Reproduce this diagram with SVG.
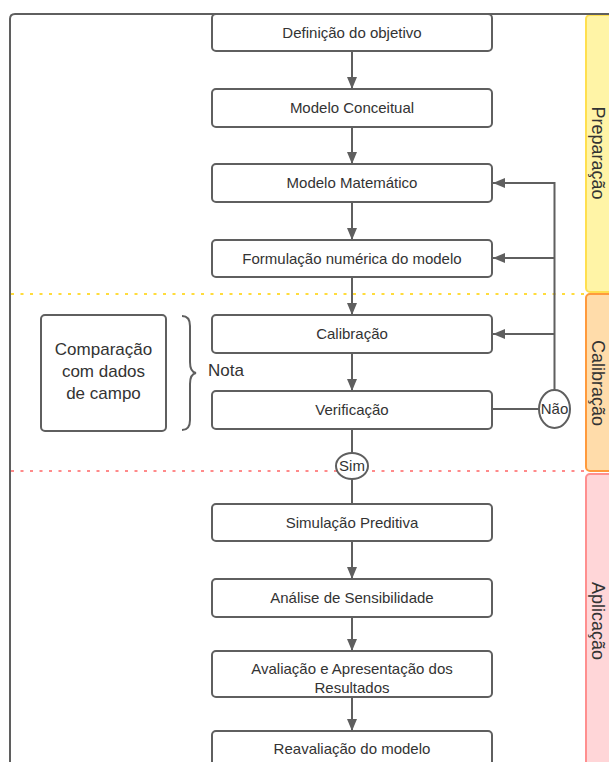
<svg xmlns="http://www.w3.org/2000/svg" width="609" height="762" viewBox="0 0 609 762">
<style>
.box{fill:#fff;stroke:#5f5f5f;stroke-width:2}
.t{font-family:"Liberation Sans",Arial,sans-serif;font-size:15px;fill:#333;text-anchor:middle}
.big{font-family:"Liberation Sans",Arial,sans-serif;font-size:17px;fill:#333}
.ln{fill:none;stroke:#5f5f5f;stroke-width:2}
.lane{font-family:"Liberation Sans",Arial,sans-serif;font-size:18px;fill:#333;text-anchor:middle}
</style>
<defs>
<marker id="ah" markerWidth="12" markerHeight="12" viewBox="0 0 12 12" refX="12" refY="6" orient="auto" markerUnits="userSpaceOnUse">
<path d="M0,1 L12,6 L0,11 Z" fill="#5f5f5f"/>
</marker>
</defs>
<rect width="609" height="762" fill="#fff"/>
<g id="lanes">
<rect x="586" y="15" width="40" height="277" rx="4" fill="#fff4a6" stroke="#ffdf4f" stroke-width="2"/>
<rect x="586" y="294" width="40" height="177" rx="4" fill="#ffdcaa" stroke="#ff9a3c" stroke-width="2"/>
<rect x="586" y="474" width="40" height="300" rx="4" fill="#ffd6d8" stroke="#ff8f8f" stroke-width="2"/>
<text class="lane" transform="translate(598,153) rotate(90)" dy="6">Preparação</text>
<text class="lane" transform="translate(598,383) rotate(90)" dy="6">Calibração</text>
<text class="lane" transform="translate(598,621) rotate(90)" dy="6">Aplicação</text>
</g>
<g id="frame">
<path d="M10,770 V19 Q10,14 15,14 H609" fill="none" stroke="#5f5f5f" stroke-width="2"/>
</g>
<g id="dividers">
<line x1="11" y1="294" x2="585" y2="294" stroke="#ffdc3c" stroke-width="2" stroke-dasharray="3 6.5"/>
<line x1="11" y1="471" x2="585" y2="471" stroke="#ff8a8a" stroke-width="2" stroke-dasharray="3 6.5"/>
</g>
<g id="connectors">
<line class="ln" x1="352" y1="51" x2="352" y2="89" marker-end="url(#ah)"/>
<line class="ln" x1="352" y1="127" x2="352" y2="164" marker-end="url(#ah)"/>
<line class="ln" x1="352" y1="202" x2="352" y2="240" marker-end="url(#ah)"/>
<line class="ln" x1="352" y1="277" x2="352" y2="315" marker-end="url(#ah)"/>
<line class="ln" x1="352" y1="353" x2="352" y2="391" marker-end="url(#ah)"/>
<line class="ln" x1="352" y1="429" x2="352" y2="453"/>
<line class="ln" x1="352" y1="479" x2="352" y2="504"/>
<line class="ln" x1="352" y1="541" x2="352" y2="579" marker-end="url(#ah)"/>
<line class="ln" x1="352" y1="617" x2="352" y2="651" marker-end="url(#ah)"/>
<line class="ln" x1="352" y1="697" x2="352" y2="731" marker-end="url(#ah)"/>
<line class="ln" x1="493" y1="409" x2="539" y2="409"/>
<path class="ln" d="M554.5,390 V183 H493" marker-end="url(#ah)"/>
<line class="ln" x1="554.5" y1="258" x2="493" y2="258" marker-end="url(#ah)"/>
<line class="ln" x1="554.5" y1="334" x2="493" y2="334" marker-end="url(#ah)"/>
</g>
<g id="n1"><rect class="box" x="212" y="14" width="280" height="37" rx="4"/><text class="t" x="352" y="38">Definição do objetivo</text></g>
<g id="n2"><rect class="box" x="212" y="89" width="280" height="38" rx="4"/><text class="t" x="352" y="113">Modelo Conceitual</text></g>
<g id="n3"><rect class="box" x="212" y="164" width="280" height="38" rx="4"/><text class="t" x="352" y="188">Modelo Matemático</text></g>
<g id="n4"><rect class="box" x="212" y="240" width="280" height="37" rx="4"/><text class="t" x="352" y="264">Formulação numérica do modelo</text></g>
<g id="n5"><rect class="box" x="212" y="315" width="280" height="38" rx="4"/><text class="t" x="352" y="339">Calibração</text></g>
<g id="n6"><rect class="box" x="212" y="391" width="280" height="38" rx="4"/><text class="t" x="352" y="415">Verificação</text></g>
<g id="sim"><ellipse cx="352" cy="466" rx="16" ry="13" fill="#fff" stroke="#5f5f5f" stroke-width="2"/><text class="t" x="352" y="471">Sim</text></g>
<g id="nao"><ellipse cx="554.5" cy="409" rx="15.5" ry="19" fill="#fff" stroke="#5f5f5f" stroke-width="2"/><text class="t" x="554.5" y="414">Não</text></g>
<g id="n7"><rect class="box" x="212" y="504" width="280" height="37" rx="4"/><text class="t" x="352" y="528">Simulação Preditiva</text></g>
<g id="n8"><rect class="box" x="212" y="579" width="280" height="38" rx="4"/><text class="t" x="352" y="603">Análise de Sensibilidade</text></g>
<g id="n9"><rect class="box" x="212" y="651" width="280" height="46" rx="4"/><text class="t" x="352" y="674">Avaliação e Apresentação dos</text><text class="t" x="352" y="693">Resultados</text></g>
<g id="n10"><rect class="box" x="212" y="731" width="280" height="45" rx="4"/><text class="t" x="352" y="754">Reavaliação do modelo</text></g>
<g id="note">
<rect class="box" x="41" y="315" width="125" height="116" rx="4"/>
<text class="big" x="103.5" y="355" text-anchor="middle">Comparação</text>
<text class="big" x="103.5" y="377" text-anchor="middle">com dados</text>
<text class="big" x="103.5" y="399" text-anchor="middle">de campo</text>
<path class="ln" d="M182,316 Q190,316 190,326 V362 Q190,372 196,373 Q190,374 190,384 V420 Q190,430 182,430"/>
<text class="big" x="208" y="376">Nota</text>
</g>
</svg>
